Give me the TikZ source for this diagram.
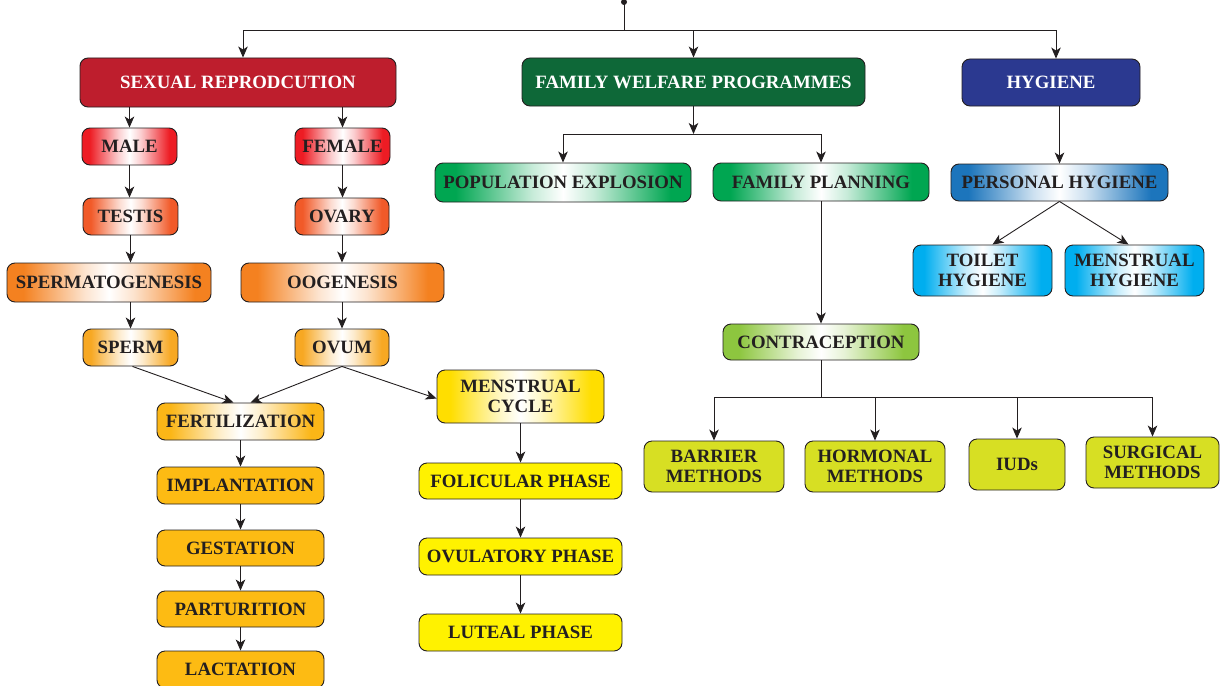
\documentclass[tikz,border=0pt]{standalone}
\usepackage{fontspec}
\setmainfont{Liberation Serif}
\usetikzlibrary{arrows.meta}
\definecolor{ink}{HTML}{231F20}
\definecolor{cSex}{HTML}{BE1E2D}
\definecolor{cFwp}{HTML}{0E6838}
\definecolor{cHyg}{HTML}{2B3990}
\definecolor{cRed}{HTML}{ED1C24}
\definecolor{cOrRed}{HTML}{F15A29}
\definecolor{cOrange}{HTML}{F48120}
\definecolor{cLtOr}{HTML}{F7A823}
\definecolor{cGold}{HTML}{FBB617}
\definecolor{cGoldS}{HTML}{FDBB13}
\definecolor{cYel}{HTML}{FFDE00}
\definecolor{cYelS}{HTML}{FFF200}
\definecolor{cGreen}{HTML}{00A651}
\definecolor{cLtGreen}{HTML}{8DC63F}
\definecolor{cLime}{HTML}{D7DF23}
\definecolor{cBlue}{HTML}{1C75BC}
\definecolor{cCyan}{HTML}{00AEEF}
\colorlet{glowc}{red}
\colorlet{glowl}{red!20!white}
\pgfdeclarehorizontalshading[glowc,glowl]{glow}{100bp}{color(0bp)=(glowc); color(29bp)=(glowc); color(44bp)=(glowl); color(50bp)=(white); color(56bp)=(glowl); color(71bp)=(glowc); color(100bp)=(glowc)}
\tikzset{
  box/.style={draw=ink, line width=0.9pt, rounded corners=8pt, inner sep=2pt, align=center,
    font=\fontsize{18.8}{20}\selectfont\bfseries, text=ink},
  title/.style={box, fill=#1, text=white},
  solid box/.style={box, fill=#1},
  glowbox/.style={box, /utils/exec={\colorlet{glowc}{#1}\colorlet{glowl}{#1!22!white}}, shade, shading=glow},
  arr/.style={draw=ink, line width=0.9pt, -{Stealth[length=11pt,width=9.5pt,inset=3pt]}},
  ln/.style={draw=ink, line width=0.9pt}
}
\begin{document}
\begin{tikzpicture}[x=1pt,y=-1pt]
\useasboundingbox (0,0) rectangle (1220,685);
% top-level
\node[title=cSex, minimum width=316, minimum height=49] (sexual) at (238,82.5) {SEXUAL REPRODCUTION};
\node[title=cFwp, minimum width=343, minimum height=48] (fwp) at (693.5,82) {FAMILY WELFARE PROGRAMMES};
\node[title=cHyg, minimum width=178, minimum height=47] (hyg) at (1051,82.5) {HYGIENE};
% sexual reproduction
\node[glowbox=cRed, minimum width=95, minimum height=37] (male) at (129.5,146.5) {MALE};
\node[glowbox=cRed, minimum width=95, minimum height=37] (female) at (342.5,146.5) {FEMALE};
\node[glowbox=cOrRed, minimum width=95, minimum height=37] (testis) at (130.5,216.5) {TESTIS};
\node[glowbox=cOrRed, minimum width=94, minimum height=37] (ovary) at (342,216.5) {OVARY};
\node[glowbox=cOrange, minimum width=204, minimum height=39] (spermato) at (109,282.5) {SPERMATOGENESIS};
\node[glowbox=cOrange, minimum width=203, minimum height=39] (oogen) at (342.5,282.5) {OOGENESIS};
\node[glowbox=cLtOr, minimum width=95, minimum height=37] (sperm) at (130.5,347.5) {SPERM};
\node[glowbox=cLtOr, minimum width=94, minimum height=37] (ovum) at (342,347.5) {OVUM};
\node[glowbox=cGold, minimum width=167, minimum height=37] (fert) at (240.5,421.5) {FERTILIZATION};
\node[solid box=cGoldS, minimum width=167, minimum height=37] (impl) at (240.5,485.5) {IMPLANTATION};
\node[solid box=cGoldS, minimum width=167, minimum height=36] (gest) at (240.5,548) {GESTATION};
\node[solid box=cGoldS, minimum width=167, minimum height=36] (partu) at (240.5,609) {PARTURITION};
\node[solid box=cGoldS, minimum width=167, minimum height=37] (lact) at (240.5,669.5) {LACTATION};
\node[glowbox=cYel, minimum width=167, minimum height=53] (mens) at (520.5,396.5) {MENSTRUAL\\CYCLE};
\node[solid box=cYelS, minimum width=203, minimum height=36] (foli) at (520.5,481) {FOLICULAR PHASE};
\node[solid box=cYelS, minimum width=203, minimum height=37] (ovul) at (520.5,556.5) {OVULATORY PHASE};
\node[solid box=cYelS, minimum width=203, minimum height=37] (lut) at (520.5,632.5) {LUTEAL PHASE};
% family welfare
\node[glowbox=cGreen, minimum width=256, minimum height=39] (pop) at (563,182.5) {POPULATION EXPLOSION};
\node[glowbox=cGreen, minimum width=216, minimum height=38] (fp) at (821,182) {FAMILY PLANNING};
\node[glowbox=cLtGreen, minimum width=196, minimum height=36] (contra) at (821,342) {CONTRACEPTION};
\node[solid box=cLime, minimum width=140, minimum height=51] (barrier) at (714,466.5) {BARRIER\\METHODS};
\node[solid box=cLime, minimum width=140, minimum height=51] (hormonal) at (875,466.5) {HORMONAL\\METHODS};
\node[solid box=cLime, minimum width=96, minimum height=51] (iuds) at (1017,464.5) {IUDs};
\node[solid box=cLime, minimum width=133, minimum height=51] (surgical) at (1152.5,462.5) {SURGICAL\\METHODS};
% hygiene
\node[glowbox=cBlue, minimum width=217, minimum height=37] (pers) at (1059.5,182.5) {PERSONAL HYGIENE};
\node[glowbox=cCyan, minimum width=139, minimum height=51] (toilet) at (982.5,270.5) {TOILET\\HYGIENE};
\node[glowbox=cCyan, minimum width=139, minimum height=51] (menhyg) at (1134.5,270.5) {MENSTRUAL\\HYGIENE};
% junctions
\coordinate (root) at (624,2);
\coordinate (j0) at (624,30);
\coordinate (j1) at (693.5,134);
\coordinate (j2) at (821,397);
\fill[ink] (root) circle (3);
\draw[ln] (root) -- (j0);
\draw[arr] (j0) -| ([xshift=5pt]sexual.north);
\draw[arr] (j0) -| (fwp.north);
\draw[arr] (j0) -| ([xshift=5pt]hyg.north);
% sexual reproduction connectors
\draw[arr] (sexual.south -| male.north) -- (male.north);
\draw[arr] (sexual.south -| female.north) -- (female.north);
\draw[arr] (male.south) -- (male.south |- testis.north);
\draw[arr] (female.south) -- (female.south |- ovary.north);
\draw[arr] (testis.south) -- (testis.south |- spermato.north);
\draw[arr] (ovary.south) -- (ovary.south |- oogen.north);
\draw[arr] (sperm.north |- spermato.south) -- (sperm.north);
\draw[arr] (ovum.north |- oogen.south) -- (ovum.north);
\draw[arr] ([xshift=2pt]sperm.south) -- ([xshift=-7pt]fert.north);
\draw[arr] (ovum.south) -- ([xshift=10pt]fert.north);
\draw[arr] (ovum.south) -- ([yshift=-2pt]mens.west);
\draw[arr] (fert.south) -- (impl.north);
\draw[arr] (impl.south) -- (gest.north);
\draw[arr] (gest.south) -- (partu.north);
\draw[arr] (partu.south) -- (lact.north);
\draw[arr] (mens.south) -- (foli.north);
\draw[arr] (foli.south) -- (ovul.north);
\draw[arr] (ovul.south) -- (lut.north);
% family welfare connectors
\draw[arr] (fwp.south) -- (j1);
\draw[arr] (j1) -| (pop.north);
\draw[arr] (j1) -| (fp.north);
\draw[arr] (fp.south) -- (contra.north);
\draw[ln] (contra.south) -- (j2);
\draw[arr] (j2) -| (barrier.north);
\draw[arr] (j2) -| (hormonal.north);
\draw[arr] (j2) -| (iuds.north);
\draw[arr] (j2) -| (surgical.north);
% hygiene connectors
\draw[arr] (hyg.south -| pers.north) -- (pers.north);
\draw[arr] (pers.south) -- ([xshift=10pt]toilet.north);
\draw[arr] (pers.south) -- ([xshift=-6pt]menhyg.north);
\end{tikzpicture}
\end{document}
